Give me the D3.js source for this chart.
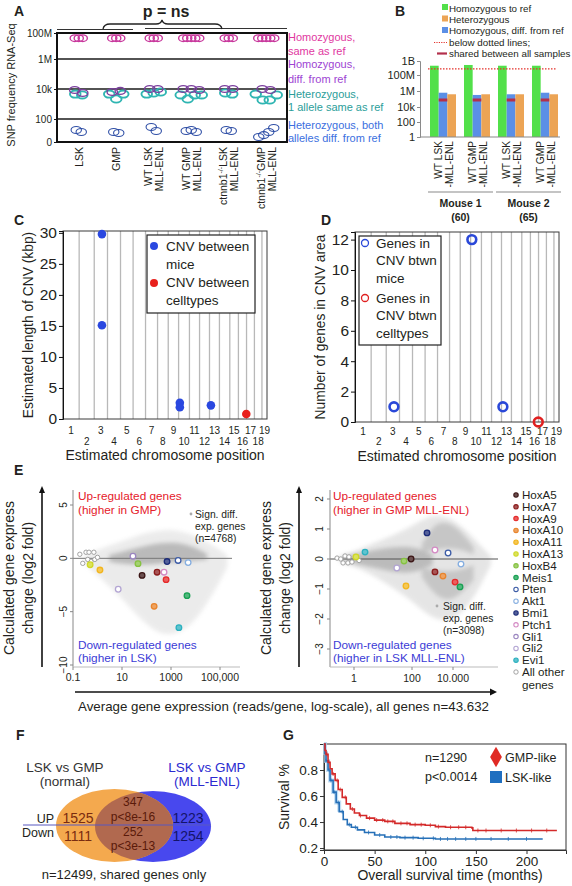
<!DOCTYPE html>
<html>
<head>
<meta charset="utf-8">
<script src="https://cdn.jsdelivr.net/npm/d3@7/dist/d3.min.js"></script>
<style>
html,body{margin:0;padding:0;background:#fff;}
svg text{font-family:"Liberation Sans",Arial,Helvetica,sans-serif;}
</style>
</head>
<body>
<svg id="fig" width="572" height="886" xmlns="http://www.w3.org/2000/svg"></svg>
<script>
// ================= DATA =================
// Panel A
const snpCategories = ["LSK","GMP","WT LSK MLL-ENL","WT GMP MLL-ENL","ctnnb1 LSK MLL-ENL","ctnnb1 GMP MLL-ENL"];
const snpLabelLine1 = ["LSK","GMP","WT LSK","WT GMP","ctnnb1|LSK","ctnnb1|GMP"];
const snpLabelLine2 = ["","","MLL-ENL","MLL-ENL","MLL-ENL","MLL-ENL"];
const snpTickValues = [1,100,1e4,1e6,1e8];
const snpTickLabels = ["0","100","10k","1M","100M"];
const snpHomSame = [[4e7,4e7,4e7],[4e7,4e7,4e7],[4e7,4e7,4e7],[4e7,4e7,4e7,4e7,4e7],[4e7,4e7,4e7],[4e7,4e7,4e7,4e7,4e7]];
const snpHomDiff = [[8600,5400],[6300,7400],[1e4,1e4],[1e4,1e4,8600],[1e4,1e4],[1e4,8600]];
const snpHetSame = [[4600,4000],[4600,2150,4600],[4600,5400,6300],[4000,2150,4000,4000],[5400,4600],[4600,1850,1850,4000]];
const snpHetDiff = [[11,7.4],[7.4,6],[20,9],[9,11,7.4],[11,9],[2.7,4,7.4,16.5]];
const snpLegendLines = [["Homozygous,","same as ref"],["Homozygous,","diff. from ref"],["Heterozygous,","1 allele same as ref"],["Heterozygous, both","alleles diff. from ref"]];
const snpPText = "p = ns";

// Panel B
const bSamples = ["M1 LSK","M1 GMP","M2 LSK","M2 GMP"];
const bLabelLine1 = ["WT LSK","WT GMP","WT LSK","WT GMP"];
const bLabelLine2 = ["-MLL-ENL","-MLL-ENL","-MLL-ENL","-MLL-ENL"];
const bHomRef = [4.6e8,5.2e8,4.6e8,4.6e8];
const bHomDiff = [6.1e5,3.2e5,3.9e5,6.1e5];
const bHetero = [3.9e5,3.9e5,3.9e5,3.9e5];
const bShared = [7.5e4,7.5e4,7.5e4,7.5e4];
const bDottedLevel = 2.7e8;
const bTickValues = [1,100,1e4,1e6,1e8,1e9];
const bTickLabels = ["1","100","10k","1M","100M","1B"];
const bLegend = ["Homozygous to ref","Heterozygous","Homozygous, diff. from ref","below dotted lines;","shared between all samples"];
const bMice = ["Mouse 1","Mouse 2"];
const bMiceN = ["(60)","(65)"];

// Panels C & D
const chromNames = ["1","2","3","4","5","6","7","8","9","10","11","12","13","14","15","16","17","18","19"];
const chromLengthsMb = [195,182,160,157,152,150,145,129,125,131,122,120,120,125,104,98,95,91,61];
const cnvChrom = [3,3,10,10,13,16];
const cnvPosMb = [93,93,15,15,17,95];
const cnvLengthKbp = [29.8,15.1,2.6,1.9,2.2,0.8];
const cnvType = ["mice","mice","mice","mice","mice","celltypes"];
const cTicks = [0,5,10,15,20,25,30];
const geneCnvChrom = [3,10,13,16];
const geneCnvPosMb = [93,15,17,95];
const geneCnvCount = [1,12,1,0];
const geneCnvType = ["mice","mice","mice","celltypes"];
const dTicks = [0,2,4,6,8,10,12];

// Panel E
const geneNames = ["HoxA5","HoxA7","HoxA9","HoxA10","HoxA11","HoxA13","HoxB4","Meis1","Pten","Akt1","Bmi1","Ptch1","Gli1","Gli2","Evi1"];
const geneExprNormal = [66,270,630,205,1.26,0.5,45,4500,1950,5000,690,520,28,7,2100];
const geneFoldNormal = [-1.6,-1.3,-2.0,-4.5,-1.1,-0.6,-0.5,-3.5,-0.2,-0.4,-0.3,-1.3,0.2,-2.9,-6.5];
const geneExprMLL = [93,1320,12600,3240,62,1.17,53,22000,5750,24500,540,1320,null,30,2.4];
const geneFoldMLL = [0.0,-0.43,-0.77,-0.57,-0.9,0.07,-0.07,-0.93,0.2,-0.17,0.87,0.3,null,-0.3,0.23];
const otherExprNormal = [0.19,0.34,0.45,0.71,0.25,0.54,0.78,1.0,0.4];
const otherFoldNormal = [0.38,0.57,0.57,0.57,-0.47,-0.28,-0.1,0.09,-0.1];
const otherExprMLL = [0.26,0.35,0.49,0.67,0.42,0.62,0.85,1.5];
const otherFoldMLL = [0.03,0.0,0.1,0.07,-0.13,-0.13,-0.1,-0.05];
const cloudLExpr = [0.3,1,3,10,30,100,300,1000,3000,1e4,3e4,1e5,2e5];
const cloudLHigh = [0.3,0.8,1.2,1.6,2.0,2.4,2.6,2.7,2.5,2.1,1.5,0.8,0.3];
const cloudLLow = [-0.5,-1.6,-2.6,-3.8,-5.0,-6.2,-7.0,-7.2,-6.8,-5.8,-4.2,-2.2,-0.8];
const coreLExpr = [3,10,30,100,300,1000,3000,1e4,3e4];
const coreLHigh = [0.3,0.6,0.9,1.2,1.4,1.5,1.4,1.0,0.4];
const coreLLow = [-0.3,-0.5,-0.6,-0.6,-0.5,-0.4,-0.3,-0.2,-0.1];
const cloudRExpr = [0.3,1,3,10,30,100,300,1000,3000,1e4,3e4,1e5,3e5,7e5];
const cloudRHigh = [0.1,0.25,0.45,0.65,0.85,1.1,1.3,1.45,1.45,1.3,1.05,0.7,0.35,0.1];
const cloudRLow = [-0.1,-0.25,-0.45,-0.75,-1.05,-1.4,-1.7,-1.95,-2.05,-2.0,-1.75,-1.3,-0.7,-0.2];
const coreRExpr = [0.5,1,3,10,30,100,300,1000];
const coreRHigh = [0.08,0.15,0.25,0.35,0.4,0.4,0.3,0.15];
const coreRLow = [-0.08,-0.15,-0.25,-0.35,-0.45,-0.45,-0.35,-0.2];
const lobeExpr = [300,1000,3000,1e4,3e4,1e5];
const lobeUpHigh = [0.5,1.1,1.25,1.15,0.85,0.4];
const lobeUpLow = [0.2,0.3,0.35,0.35,0.3,0.15];
const lobeDnHigh = [-0.3,-0.35,-0.4,-0.4,-0.35,-0.2];
const lobeDnLow = [-0.6,-1.1,-1.35,-1.35,-1.1,-0.7];
const eLeftYTicks = [5,0,-5,-10];
const eRightYTicks = [2,1,0,-1,-2,-3];
const eLeftXTicks = [0.1,10,1000,1e5];
const eLeftXLabels = ["0.1","10","1000","100,000"];
const eRightXTicks = [1,100,1e4];
const eRightXLabels = ["1","100","10.000"];
const eSignLeft = ["Sign. diff.","exp. genes","(n=4768)"];
const eSignRight = ["Sign. diff.","exp. genes","(n=3098)"];

// Panel F
const vennRows = ["UP","Down"];
const vennLeftOnly = [1525,1111];
const vennShared = [347,252];
const vennSharedP = ["p<8e-16","p<3e-13"];
const vennRightOnly = [1223,1254];

// Panel G
const kmGmpMonths = [0,1,2,4,6,8,11,14,18,22,26,30,35,42,50,60,70,85,100,110,120,146,147,230];
const kmGmpSurv =   [1.0,0.95,0.92,0.86,0.81,0.77,0.72,0.65,0.59,0.54,0.50,0.47,0.45,0.43,0.415,0.405,0.39,0.38,0.375,0.365,0.36,0.355,0.335,0.335];
const kmLskMonths = [0,1,2,4,6,9,12,15,19,23,27,33,40,50,60,75,93,110,216];
const kmLskSurv =   [1.0,0.93,0.87,0.80,0.72,0.63,0.55,0.48,0.42,0.38,0.36,0.34,0.32,0.30,0.285,0.28,0.275,0.27,0.27];
const kmGmpCensor = [3,5,9,13,16,21,28,36,45,52,58,63,68,76,82,90,96,105,113,125,133,140,152,160,175,190,205,220];
const kmLskCensor = [2,5,7,10,14,18,25,31,44,55,66,72,80,88,98,108,115,122,130,140,150,165,182,200];
const gYTicks = [0.2,0.4,0.6,0.8];
const gXTicks = [0,50,100,150,200];

// ================= DRAW =================
const svg = d3.select("#fig");
svg.append("rect").attr("width",572).attr("height",886).attr("fill","#fff");
const defs = svg.append("defs");
defs.append("filter").attr("id","blur").attr("x","-30%").attr("y","-30%").attr("width","160%").attr("height","160%")
  .append("feGaussianBlur").attr("stdDeviation",2.2);

function T(g,x,y,s,o){
  o=o||{};
  const t=g.append("text").attr("x",x).attr("y",y).text(s)
    .attr("font-size",o.size||12).attr("fill",o.fill||"#231f20");
  if(o.anchor) t.attr("text-anchor",o.anchor);
  if(o.weight) t.attr("font-weight",o.weight);
  if(o.rot!==undefined) t.attr("transform",`rotate(${o.rot},${x},${y})`);
  return t;
}
function styleAxis(g,size,color){
  g.selectAll("text").attr("font-size",size).attr("fill","#231f20");
  g.selectAll("line").attr("stroke",color);
  g.select(".domain").attr("stroke",color);
}

// panel letters
[["A",14,16],["B",395,16],["C",14,225],["D",321,225],["E",14,475],["F",16,740],["G",283,740]]
  .forEach(p=>T(svg,p[1],p[2],p[0],{size:14,weight:"bold"}));

// ---------- Panel A ----------
const gA = svg.append("g");
const xA = d3.scaleBand().domain(snpCategories).range([60,285]);
const yAl = d3.scaleLinear().domain([0,2,4,6,8]).range([142,119,89,59,33]);
const yA = v => yAl(Math.log10(v));
gA.selectAll("line.grid").data(snpTickValues.slice(1,4)).join("line")
  .attr("x1",57).attr("x2",287).attr("y1",d=>yA(d)).attr("y2",d=>yA(d))
  .attr("stroke","#1a1a1a").attr("stroke-width",1.4);
gA.append("rect").attr("x",57).attr("y",33).attr("width",230).attr("height",109)
  .attr("fill","none").attr("stroke","#111").attr("stroke-width",2);
gA.append("g").attr("transform","translate(57,0)")
  .call(d3.axisLeft(yAl).tickValues(snpTickValues.map(Math.log10)).tickFormat((d,i)=>snpTickLabels[i]).tickSize(3).tickPadding(2))
  .call(g=>{styleAxis(g,10,"#111");g.select(".domain").remove();});
T(gA,15,85,"SNP frequency RNA-Seq",{size:11,anchor:"middle",rot:-90});
// brace + p text
gA.append("path").attr("d","M57,29.5H133 M145,28.5H287").attr("stroke","#333").attr("stroke-width",1.1).attr("fill","none");
gA.append("path").attr("d","M103,29 Q104,24 110,24 H156 Q161,24 162,20 Q163,24 168,24 H215 Q221,24 222,29")
  .attr("stroke","#222").attr("stroke-width",1.3).attr("fill","none");
T(gA,166,17,snpPText,{size:16,weight:"bold",anchor:"middle"});
const snpSeries = [
  {vals:snpHomSame,color:"#c8379c",sp:4,rx:4.6,ry:3.3,sw:1.4},
  {vals:snpHetSame,color:"#2fb5b2",sp:7,rx:5.3,ry:3.6,sw:1.9},
  {vals:snpHomDiff,color:"#7b3f9e",sp:8,rx:5.2,ry:3.4,sw:1.4},
  {vals:snpHetDiff,color:"#2f4fa6",sp:5,rx:5.2,ry:3.5,sw:1.1}];
snpSeries.forEach(s=>{
  snpCategories.forEach((c,i)=>{
    const cx = xA(c)+xA.bandwidth()/2;
    const arr = s.vals[i];
    arr.forEach((v,j)=>{
      gA.append("ellipse").attr("cx",cx+(j-(arr.length-1)/2)*s.sp).attr("cy",yA(v))
        .attr("rx",s.rx).attr("ry",s.ry).attr("fill","none").attr("stroke",s.color).attr("stroke-width",s.sw);
    });
  });
});
snpCategories.forEach((c,i)=>{
  const cx = xA(c)+xA.bandwidth()/2;
  const two = snpLabelLine2[i]!=="";
  const x1 = two? cx-1.5 : cx+4;
  const t = gA.append("text").attr("x",x1).attr("y",147).attr("text-anchor","end")
    .attr("font-size",10.5).attr("fill","#231f20").attr("transform",`rotate(-90,${x1},147)`);
  const parts = snpLabelLine1[i].split("|");
  if(parts.length===2){
    t.append("tspan").text(parts[0]);
    t.append("tspan").attr("dy",-4).attr("font-size",7).text("-/-");
    t.append("tspan").attr("dy",4).text(parts[1]);
  } else t.text(parts[0]);
  if(two){
    const x2 = cx+9.5;
    T(gA,x2,147,snpLabelLine2[i],{size:10.5,anchor:"end",rot:-90});
  }
});
const snpLegendColors = ["#df389f","#9d44d3","#2b9e9a","#3b6fe0"];
const snpLegendY = [[41,55],[68,83],[98,111],[129,142]];
snpLegendLines.forEach((ls,i)=>ls.forEach((l,j)=>T(gA,288,snpLegendY[i][j],l,{size:11,fill:snpLegendColors[i]})));

// ---------- Panel B ----------
const gB = svg.append("g");
const yBl = d3.scaleLinear().domain([0,2,4,6,8,9]).range([137,122,107,91,75,61]);
const yB = v => yBl(Math.log10(v));
const xB = d3.scaleBand().domain(bSamples).range([426,562]).paddingInner(8/34).paddingOuter(4/34);
const bSeriesKeys = ["homRef","homDiff","hetero"];
const bSeriesVals = {homRef:bHomRef,homDiff:bHomDiff,hetero:bHetero};
const bColors = {homRef:"#52e04a",homDiff:"#5b8fe6",hetero:"#eca455"};
const xBs = d3.scaleBand().domain(bSeriesKeys).range([0,xB.bandwidth()]);
bSamples.forEach((s,i)=>{
  bSeriesKeys.forEach(k=>{
    const v = bSeriesVals[k][i];
    gB.append("rect").attr("x",xB(s)+xBs(k)).attr("width",xBs.bandwidth())
      .attr("y",yB(v)).attr("height",yB(1)-yB(v)).attr("fill",bColors[k]);
  });
  gB.append("rect").attr("x",xB(s)+xBs("homDiff")).attr("width",xBs.bandwidth())
    .attr("y",yB(bShared[i])-1.5).attr("height",3).attr("fill","#b3304c");
});
gB.append("line").attr("x1",428).attr("x2",557).attr("y1",yB(bDottedLevel)).attr("y2",yB(bDottedLevel))
  .attr("stroke","#e3322b").attr("stroke-width",1.2).attr("stroke-dasharray","1.5,1.5");
gB.append("g").attr("transform","translate(420,0)")
  .call(d3.axisLeft(yBl).tickValues(bTickValues.map(Math.log10)).tickFormat((d,i)=>bTickLabels[i]).tickSize(3).tickPadding(2))
  .call(g=>styleAxis(g,11,"#8a8a8a"));
gB.append("line").attr("x1",420).attr("x2",560).attr("y1",137).attr("y2",137).attr("stroke","#8a8a8a").attr("stroke-width",1.2);
bSamples.forEach((s,i)=>{
  const cx = xB(s)+xB.bandwidth()/2;
  T(gB,cx-1.5,141,bLabelLine1[i],{size:10.2,anchor:"end",rot:-90});
  T(gB,cx+9.5,141,bLabelLine2[i],{size:10.2,anchor:"end",rot:-90});
});
bMice.forEach((m,i)=>{
  const a = xB(bSamples[2*i])-2, b = xB(bSamples[2*i+1])+xB.bandwidth()+3;
  gB.append("line").attr("x1",a).attr("x2",b).attr("y1",192).attr("y2",192).attr("stroke","#8a8a8a").attr("stroke-width",1.2);
  T(gB,(a+b)/2,207,m,{size:10.5,weight:"bold",anchor:"middle"});
  T(gB,(a+b)/2,221,bMiceN[i],{size:10.5,weight:"bold",anchor:"middle"});
});
// legend B
const bLegY = [12,23,34,46,57];
gB.append("rect").attr("x",442).attr("y",4).attr("width",6).attr("height",6).attr("fill",bColors.homRef);
gB.append("rect").attr("x",442).attr("y",15.5).attr("width",6).attr("height",6).attr("fill",bColors.hetero);
gB.append("rect").attr("x",442).attr("y",27).attr("width",6).attr("height",6).attr("fill",bColors.homDiff);
gB.append("line").attr("x1",434).attr("x2",447).attr("y1",42.5).attr("y2",42.5).attr("stroke","#e3322b").attr("stroke-width",1).attr("stroke-dasharray","1.2,1.2");
gB.append("line").attr("x1",437).attr("x2",447).attr("y1",53.5).attr("y2",53.5).attr("stroke","#b3304c").attr("stroke-width",2.2);
bLegend.forEach((l,i)=>T(gB,449,bLegY[i],l,{size:9.8}));

// ---------- Panels C & D ----------
const cumEnd = Array.from(d3.cumsum(chromLengthsMb));
const chromStart = [0].concat(cumEnd.slice(0,-1));
const genomeMb = cumEnd[cumEnd.length-1];
const chromMid = chromStart.map((s,i)=>s+chromLengthsMb[i]/2);
function chromPanel(g,x0,x1,yScale,ticks,oddY,evenY){
  const x = d3.scaleLinear().domain([0,genomeMb]).range([x0,x1]);
  const [yb,yt] = yScale.range();
  g.selectAll("line.chr").data(cumEnd.slice(0,-1)).join("line")
    .attr("x1",d=>x(d)).attr("x2",d=>x(d)).attr("y1",yt).attr("y2",yb)
    .attr("stroke","#b8b8b8").attr("stroke-width",1.3);
  g.append("rect").attr("x",x0).attr("y",yt).attr("width",x1-x0).attr("height",yb-yt)
    .attr("fill","none").attr("stroke","#3a3a3a").attr("stroke-width",1);
  g.append("g").attr("transform",`translate(${x0},0)`)
    .call(d3.axisLeft(yScale).tickValues(ticks).tickSize(4).tickPadding(2))
    .call(a=>styleAxis(a,15.5,"#111"));
  chromNames.forEach((n,i)=>T(g,x(chromMid[i]),i%2===0?oddY:evenY,n,{size:10,anchor:"middle"}));
  return x;
}
const gC = svg.append("g");
const yC = d3.scaleLinear().domain([0,30.3]).range([419,231]);
const xC = chromPanel(gC,63,267,yC,cTicks,434,445);
const cnvColor = {mice:"#2a48e0",celltypes:"#e8201c"};
cnvChrom.forEach((c,i)=>{
  gC.append("circle").attr("cx",xC(chromStart[c-1]+cnvPosMb[i])).attr("cy",yC(cnvLengthKbp[i]))
    .attr("r",4.3).attr("fill",cnvColor[cnvType[i]]);
});
T(gC,165,460,"Estimated chromosome position",{size:14,anchor:"middle"});
T(gC,33,325,"Estimated length of CNV (kbp)",{size:13.8,anchor:"middle",rot:-90});
gC.append("rect").attr("x",147).attr("y",235).attr("width",108).attr("height",78).attr("fill","#fff").attr("stroke","#222").attr("stroke-width",1.2);
gC.append("circle").attr("cx",154).attr("cy",246).attr("r",4).attr("fill",cnvColor.mice);
gC.append("circle").attr("cx",154).attr("cy",283).attr("r",4).attr("fill",cnvColor.celltypes);
[["CNV between",251],["mice",269],["CNV between",287],["celltypes",305]].forEach(d=>T(gC,166,d[1],d[0],{size:13.5}));

const gD = svg.append("g");
const yD = d3.scaleLinear().domain([0,12.5]).range([422,232]);
const xD = chromPanel(gD,355,559,yD,dTicks,435,445);
const geneCnvColor = {mice:"#2a48d8",celltypes:"#e02020"};
geneCnvChrom.forEach((c,i)=>{
  gD.append("circle").attr("cx",xD(chromStart[c-1]+geneCnvPosMb[i])).attr("cy",yD(geneCnvCount[i]))
    .attr("r",4.4).attr("fill","none").attr("stroke",geneCnvColor[geneCnvType[i]]).attr("stroke-width",2.6);
});
T(gD,457,461,"Estimated chromosome position",{size:14,anchor:"middle"});
T(gD,325,327,"Number of genes in CNV area",{size:13.8,anchor:"middle",rot:-90});
gD.append("rect").attr("x",359).attr("y",236).attr("width",82).attr("height",109).attr("fill","#fff").attr("stroke","#222").attr("stroke-width",1.2);
gD.append("circle").attr("cx",365).attr("cy",243).attr("r",3.5).attr("fill","none").attr("stroke",geneCnvColor.mice).attr("stroke-width",1.3);
gD.append("circle").attr("cx",365).attr("cy",298).attr("r",3.5).attr("fill","none").attr("stroke",geneCnvColor.celltypes).attr("stroke-width",1.3);
[["Genes in",248],["CNV btwn",265],["mice",283],["Genes in",303],["CNV btwn",320],["celltypes",338]].forEach(d=>T(gD,376,d[1],d[0],{size:13.5}));

// ---------- Panel E ----------
const gE = svg.append("g");
const geneColors = ["#3a1414","#8c1d1d","#e52a2a","#e8842c","#f2b51d","#cfd826","#86c241","#17a052","#3b5ba6","#85aee0","#1b2b78","#d48ac4","#9b86c0","#b3a5d3","#2bb0bf"];
const geneOpen = ["Pten","Akt1","Ptch1","Gli1","Gli2"];
const xEL = d3.scaleLog().domain([0.1,1e5]).range([73,220]);
const yEL = d3.scaleLinear().domain([-10,5]).range([665,505]);
const xERl = d3.scaleLinear().domain([0,2,4]).range([354,412,453]);
const xER = v => xERl(Math.log10(v));
const yER = d3.scaleLinear().domain([-3,2]).range([649,499]);
function cloud(g,xs,hi,lo,xf,yf,fill,op){
  const data = d3.zip(xs,hi,lo);
  g.append("path").datum(data)
    .attr("d",d3.area().x(d=>xf(d[0])).y0(d=>yf(d[2])).y1(d=>yf(d[1])).curve(d3.curveBasis))
    .attr("fill",fill).attr("opacity",op).attr("filter","url(#blur)");
}
cloud(gE,cloudLExpr,cloudLHigh,cloudLLow,xEL,yEL,"#c4c4c4",0.32);
cloud(gE,coreLExpr,coreLHigh,coreLLow,xEL,yEL,"#8a8a8a",0.5);
cloud(gE,cloudRExpr,cloudRHigh,cloudRLow,xER,yER,"#c0c0c0",0.4);
cloud(gE,coreRExpr,coreRHigh,coreRLow,xER,yER,"#8a8a8a",0.45);
cloud(gE,lobeExpr,lobeUpHigh,lobeUpLow,xER,yER,"#999",0.4);
cloud(gE,lobeExpr,lobeDnHigh,lobeDnLow,xER,yER,"#999",0.4);
// axes lines
gE.append("line").attr("x1",73).attr("x2",232).attr("y1",yEL(0)).attr("y2",yEL(0)).attr("stroke","#777").attr("stroke-width",1);
gE.append("line").attr("x1",330).attr("x2",498).attr("y1",yER(0)).attr("y2",yER(0)).attr("stroke","#555").attr("stroke-width",1.1);
gE.append("line").attr("x1",73).attr("x2",73).attr("y1",490).attr("y2",667).attr("stroke","#888");
gE.append("line").attr("x1",330).attr("x2",330).attr("y1",490).attr("y2",667).attr("stroke","#888");
gE.append("line").attr("x1",73).attr("x2",240).attr("y1",667).attr("y2",667).attr("stroke","#bbb");
gE.append("line").attr("x1",330).attr("x2",498).attr("y1",667).attr("y2",667).attr("stroke","#bbb");
eLeftYTicks.forEach(v=>{
  gE.append("line").attr("x1",70).attr("x2",73).attr("y1",yEL(v)).attr("y2",yEL(v)).attr("stroke","#888");
  T(gE,67,yEL(v),String(v).replace("-","\u2212"),{size:10,anchor:"middle",rot:-90});
});
eRightYTicks.forEach(v=>{
  gE.append("line").attr("x1",327).attr("x2",330).attr("y1",yER(v)).attr("y2",yER(v)).attr("stroke","#888");
  T(gE,323,yER(v),String(v).replace("-","\u2212"),{size:10,anchor:"middle",rot:-90});
});
eLeftXTicks.forEach((v,i)=>{
  gE.append("line").attr("x1",xEL(v)).attr("x2",xEL(v)).attr("y1",667).attr("y2",670).attr("stroke","#888");
  T(gE,xEL(v),681,eLeftXLabels[i],{size:10.5,anchor:"middle"});
});
eRightXTicks.forEach((v,i)=>{
  gE.append("line").attr("x1",xER(v)).attr("x2",xER(v)).attr("y1",667).attr("y2",670).attr("stroke","#888");
  T(gE,xER(v),682,eRightXLabels[i],{size:10.5,anchor:"middle"});
});
// other genes
d3.zip(otherExprNormal,otherFoldNormal).forEach(d=>gE.append("circle").attr("cx",xEL(d[0])).attr("cy",yEL(d[1])).attr("r",2.2).attr("fill","#fff").attr("stroke","#999").attr("stroke-width",0.9));
d3.zip(otherExprMLL,otherFoldMLL).forEach(d=>gE.append("circle").attr("cx",xER(d[0])).attr("cy",yER(d[1])).attr("r",2.2).attr("fill","#fff").attr("stroke","#999").attr("stroke-width",0.9));
function geneFill(i){return geneOpen.includes(geneNames[i])? "#fff" : d3.interpolateRgb(geneColors[i],"#fff")(0.25);}
geneNames.forEach((g,i)=>{
  gE.append("circle").attr("cx",xEL(geneExprNormal[i])).attr("cy",yEL(geneFoldNormal[i])).attr("r",2.8)
    .attr("fill",geneFill(i)).attr("stroke",geneColors[i]).attr("stroke-width",1.3);
  if(geneExprMLL[i]!==null)
    gE.append("circle").attr("cx",xER(geneExprMLL[i])).attr("cy",yER(geneFoldMLL[i])).attr("r",2.8)
      .attr("fill",geneFill(i)).attr("stroke",geneColors[i]).attr("stroke-width",1.3);
});
// texts
T(gE,78,500,"Up-regulated genes",{size:11.8,fill:"#e5202a"});
T(gE,78,514,"(higher in GMP)",{size:11.8,fill:"#e5202a"});
T(gE,78,649,"Down-regulated genes",{size:11.8,fill:"#3b3bd6"});
T(gE,78,662,"(higher in LSK)",{size:11.8,fill:"#3b3bd6"});
T(gE,333,500,"Up-regulated genes",{size:11.8,fill:"#e5202a"});
T(gE,333,514,"(higher in GMP MLL-ENL)",{size:11.8,fill:"#e5202a"});
T(gE,333,649,"Down-regulated genes",{size:11.8,fill:"#3b3bd6"});
T(gE,333,662,"(higher in LSK MLL-ENL)",{size:11.8,fill:"#3b3bd6"});
gE.append("circle").attr("cx",191).attr("cy",514).attr("r",1.4).attr("fill","#aaa");
[518,530,542].forEach((y,i)=>T(gE,195,y,eSignLeft[i],{size:10.3}));
gE.append("circle").attr("cx",437).attr("cy",606).attr("r",1.4).attr("fill","#aaa");
[610,622,634].forEach((y,i)=>T(gE,443,y,eSignRight[i],{size:10.3}));
// big arrows
function arrowV(x){
  gE.append("line").attr("x1",x).attr("x2",x).attr("y1",667).attr("y2",491).attr("stroke","#111").attr("stroke-width",1.6);
  gE.append("path").attr("d",`M${x-3},${493} L${x},${486} L${x+3},${493} Z`).attr("fill","#111");
}
arrowV(42); arrowV(299);
gE.append("line").attr("x1",75).attr("x2",492).attr("y1",692).attr("y2",692).attr("stroke","#111").attr("stroke-width",1.6);
gE.append("path").attr("d","M490,688.5 L497,692 L490,695.5 Z").attr("fill","#111");
T(gE,14,578,"Calculated gene express",{size:14,anchor:"middle",rot:-90});
T(gE,33,578,"change (log2 fold)",{size:14,anchor:"middle",rot:-90});
T(gE,271,578,"Calculated gene express",{size:14,anchor:"middle",rot:-90});
T(gE,290,578,"change (log2 fold)",{size:14,anchor:"middle",rot:-90});
T(gE,78,711,"Average gene expression (reads/gene, log-scale), all genes n=43.632",{size:13.5})
  .attr("textLength",411).attr("lengthAdjust","spacingAndGlyphs");
// legend E
const legY = d3.range(geneNames.length).map(i=>499+i*11.8);
geneNames.forEach((g,i)=>{
  gE.append("circle").attr("cx",516).attr("cy",legY[i]-4).attr("r",2.2).attr("fill",geneFill(i)).attr("stroke",geneColors[i]).attr("stroke-width",1.1);
  T(gE,522,legY[i],g,{size:11.6});
});
const legOther = 499+geneNames.length*11.8;
gE.append("circle").attr("cx",516).attr("cy",legOther-4).attr("r",2.2).attr("fill","#fff").attr("stroke","#999").attr("stroke-width",0.9);
T(gE,522,legOther,"All other",{size:11.6});
T(gE,522,legOther+13,"genes",{size:11.6});

// ---------- Panel F ----------
const gF = svg.append("g");
defs.append("clipPath").attr("id","clipBlue").append("ellipse").attr("cx",153).attr("cy",826.5).attr("rx",58).attr("ry",35.5);
gF.append("ellipse").attr("cx",153).attr("cy",826.5).attr("rx",58).attr("ry",35.5).attr("fill","#4848ee");
gF.append("ellipse").attr("cx",114.5).attr("cy",825.5).attr("rx",58.5).attr("ry",36.5).attr("fill","#f4a94e");
gF.append("ellipse").attr("cx",114.5).attr("cy",825.5).attr("rx",58.5).attr("ry",36.5).attr("fill","#b1694f").attr("clip-path","url(#clipBlue)");
gF.append("line").attr("x1",23).attr("x2",211).attr("y1",825).attr("y2",825).attr("stroke","#5858c0").attr("stroke-width",1);
T(gF,65,772,"LSK vs GMP",{size:13.5,anchor:"middle",fill:"#333"});
T(gF,65,786,"(normal)",{size:13.5,anchor:"middle",fill:"#333"});
T(gF,207,772,"LSK vs GMP",{size:13.5,anchor:"middle",fill:"#2a2ad0"});
T(gF,207,786,"(MLL-ENL)",{size:13.5,anchor:"middle",fill:"#2a2ad0"});
const rowY = [823,841];
vennRows.forEach((r,i)=>{
  T(gF,54,i===0?823:837,r,{size:12.5,anchor:"end"});
  T(gF,78,rowY[i],String(vennLeftOnly[i]),{size:14,anchor:"middle",fill:"#7a2c10"});
  T(gF,188,rowY[i],String(vennRightOnly[i]),{size:14,anchor:"middle",fill:"#14146a"});
});
T(gF,133,806,String(vennShared[0]),{size:12,anchor:"middle",fill:"#5a1a0a"});
T(gF,133,820.5,vennSharedP[0],{size:12,anchor:"middle",fill:"#5a1a0a"});
T(gF,133,835.5,String(vennShared[1]),{size:12,anchor:"middle",fill:"#5a1a0a"});
T(gF,133,850,vennSharedP[1],{size:12,anchor:"middle",fill:"#5a1a0a"});
T(gF,124,879,"n=12499, shared genes only",{size:13,anchor:"middle"});

// ---------- Panel G ----------
const gG = svg.append("g");
const xG = d3.scaleLinear().domain([0,239]).range([324,566]);
const yG = d3.scaleLinear().domain([0.185,1.0]).range([850,744]);
gG.append("rect").attr("x",324).attr("y",744).attr("width",242).attr("height",106).attr("fill","none").attr("stroke","#333").attr("stroke-width",1);
gG.append("g").attr("transform","translate(324,0)").call(d3.axisLeft(yG).tickValues(gYTicks).tickFormat(d3.format(".1f")).tickSize(4).tickPadding(2)).call(g=>styleAxis(g,13.5,"#333"));
gG.append("g").attr("transform","translate(0,850)").call(d3.axisBottom(xG).tickValues(gXTicks).tickSize(4).tickPadding(2)).call(g=>styleAxis(g,13.5,"#333"));
const kmLine = d3.line().x(d=>xG(d[0])).y(d=>yG(d[1])).curve(d3.curveStepAfter);
const gmp = d3.zip(kmGmpMonths,kmGmpSurv), lsk = d3.zip(kmLskMonths,kmLskSurv);
gG.append("path").datum(lsk.slice(0,8)).attr("d",kmLine).attr("fill","none").attr("stroke","#a8d0f0").attr("stroke-width",4).attr("opacity",0.7);
gG.append("path").datum(lsk).attr("d",kmLine).attr("fill","none").attr("stroke","#2670b8").attr("stroke-width",1.6);
gG.append("path").datum(gmp).attr("d",kmLine).attr("fill","none").attr("stroke","#d42a2a").attr("stroke-width",1.6);
function survAt(data,t){let s=data[0][1];data.forEach(d=>{if(d[0]<=t)s=d[1];});return s;}
kmGmpCensor.forEach(t=>gG.append("line").attr("x1",xG(t)).attr("x2",xG(t)).attr("y1",yG(survAt(gmp,t))-2).attr("y2",yG(survAt(gmp,t))+2).attr("stroke","#d42a2a").attr("stroke-width",0.8));
kmLskCensor.forEach(t=>gG.append("line").attr("x1",xG(t)).attr("x2",xG(t)).attr("y1",yG(survAt(lsk,t))-2).attr("y2",yG(survAt(lsk,t))+2).attr("stroke","#2670b8").attr("stroke-width",0.8));
T(gG,450,880,"Overall survival time (months)",{size:14,anchor:"middle"});
T(gG,289,797,"Survival %",{size:14,anchor:"middle",rot:-90});
T(gG,425,762,"n=1290",{size:12.5});
T(gG,425,781,"p<0.0014",{size:12.5});
gG.append("path").attr("d",d3.symbol().type(d3.symbolDiamond).size(120)).attr("transform","translate(496,757)").attr("fill","#e02a24");
gG.append("rect").attr("x",490).attr("y",771).attr("width",12).attr("height",12).attr("fill","#1f6fc0");
T(gG,505,762,"GMP-like",{size:12.5});
T(gG,505,782,"LSK-like",{size:12.5});
</script>
</body>
</html>
